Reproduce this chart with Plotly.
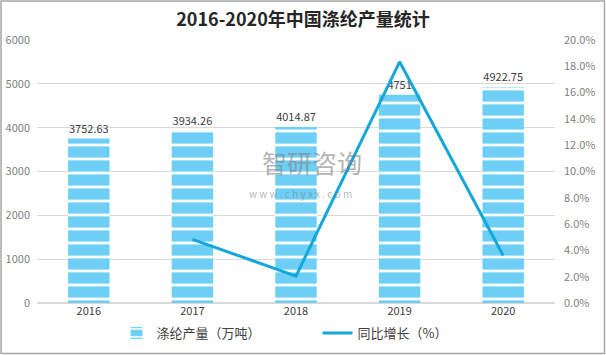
import plotly.graph_objects as go

years = ["2016", "2017", "2018", "2019", "2020"]
output = [3752.63, 3934.26, 4014.87, 4751, 4922.75]
output_labels = ["3752.63", "3934.26", "4014.87", "4751", "4922.75"]
growth_years = ["2017", "2018", "2019", "2020"]
growth = [0.0484, 0.0205, 0.1834, 0.0361]

W, H = 606, 355
ML, MR, MT, MB = 37, 51, 40, 52
PW, PH = W - ML - MR, H - MT - MB

font_family = "Noto Sans CJK SC, Noto Sans, sans-serif"

fig = go.Figure()
fig.add_trace(go.Bar(
    x=years, y=output, name="涤纶产量（万吨）",
    text=output_labels, textposition="outside",
    textfont=dict(size=11, color="#404040"),
    cliponaxis=False,
    marker=dict(color="#6DCFF6", line=dict(width=0),
                pattern=dict(shape="-", bgcolor="#6DCFF6", fgcolor="white",
                             size=14, solidity=0.2, fillmode="replace")),
    width=0.4,
))
fig.add_trace(go.Scatter(
    x=growth_years, y=growth, name="同比增长（%）", yaxis="y2",
    mode="lines", line=dict(color="#14A7DC", width=3),
))

fig.update_layout(
    width=W, height=H,
    margin=dict(l=ML, r=MR, t=MT, b=MB, autoexpand=False),
    paper_bgcolor="white", plot_bgcolor="white",
    font=dict(family=font_family, color="#404040"),
    title=dict(text="<b>2016-2020年中国涤纶产量统计</b>", x=0.5, xanchor="center",
               y=1 - 20 / H, yanchor="middle",
               font=dict(size=18, color="#262626", family=font_family)),
    showlegend=True,
    legend=dict(orientation="h", x=0.5415, xanchor="center", y=-30 / PH, yanchor="middle",
                font=dict(size=13, color="#404040"), entrywidth=156,
                traceorder="normal"),
    xaxis=dict(type="category", showgrid=False, showline=False, ticks="",
               tickfont=dict(size=11, color="#404040"), automargin=False),
    yaxis=dict(range=[0, 6000], dtick=1000, showgrid=True, gridcolor="#D9D9D9",
               gridwidth=1, zeroline=True, zerolinecolor="#D9D9D9", showline=False,
               tickfont=dict(size=11, color="#7F7F7F"), ticklabelstandoff=6,
               automargin=False),
    yaxis2=dict(range=[0, 0.2], dtick=0.02, tickformat=".1%", overlaying="y",
                side="right", showgrid=False, zeroline=False, showline=False,
                tickfont=dict(size=11, color="#7F7F7F"), ticklabelstandoff=8,
                automargin=False),
    annotations=[
        dict(text="智研咨询", xref="paper", yref="paper",
             x=(312 - ML) / PW, y=(303 - 162) / PH, showarrow=False,
             font=dict(size=25, color="rgba(130,130,130,0.6)", family=font_family)),
        dict(text="w w w . c h y x x . c o m", xref="paper", yref="paper",
             x=(300 - ML) / PW, y=(303 - 193) / PH, showarrow=False,
             font=dict(size=10, color="rgba(130,130,130,0.6)", family=font_family)),
    ],
    shapes=[
        dict(type="rect", xref="paper", yref="paper",
             x0=-(ML - 1) / PW, x1=(W - ML - 1.5) / PW,
             y0=-(MB - 1.5) / PH, y1=(PH + MT - 1) / PH,
             line=dict(color="#A6A6A6", width=1.5), fillcolor="rgba(0,0,0,0)",
             layer="below"),
    ],
)

fig.write_html("out.html", config={"displayModeBar": False},
               post_script="document.body.style.margin='0';document.body.style.padding='0';")
